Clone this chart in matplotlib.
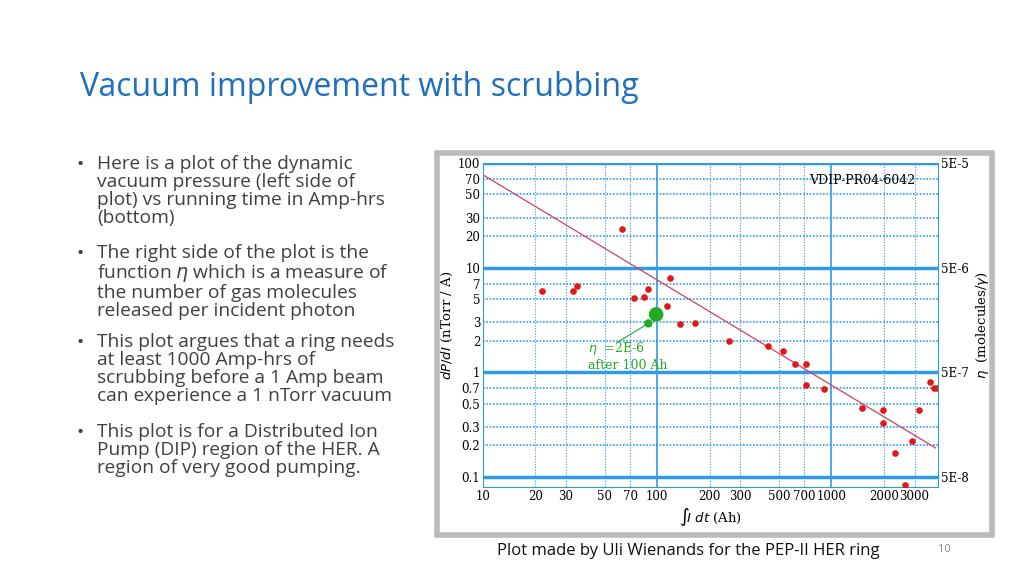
import matplotlib
matplotlib.use("Agg")
import matplotlib.pyplot as plt
from matplotlib.patches import Rectangle
from matplotlib.ticker import FixedLocator, NullLocator

ah = [21.7, 32.7, 34.5, 62.5, 73.8, 84, 88, 118, 114, 135, 165, 258, 431, 529, 614, 711, 713,
      906, 1497, 1990, 1990, 2330, 2640, 2910, 3170, 3670, 3870, 4060]
dpdi = [5.96, 6.0, 6.7, 23.2, 5.1, 5.2, 6.2, 7.9, 4.3, 2.9, 2.97, 2.0, 1.79, 1.6, 1.2, 1.2, 0.75,
        0.69, 0.46, 0.44, 0.33, 0.17, 0.083, 0.22, 0.44, 0.80, 0.71, 0.71]
green_ah = [89, 98.6]
green_dpdi = [2.93, 3.57]
fit_ah = [10, 3960]
fit_dpdi = [77, 0.189]
yticks = [0.1, 0.2, 0.3, 0.5, 0.7, 1, 2, 3, 5, 7, 10, 20, 30, 50, 70, 100]
xticks = [10, 20, 30, 50, 70, 100, 200, 300, 500, 700, 1000, 2000, 3000]
rticks = [0.1, 1, 10, 100]
rlabels = ["5E-8", "5E-7", "5E-6", "5E-5"]

bullets = [
    "Here is a plot of the dynamic\nvacuum pressure (left side of\nplot) vs running time in Amp-hrs\n(bottom)",
    "The right side of the plot is the\nfunction $\\eta$ which is a measure of\nthe number of gas molecules\nreleased per incident photon",
    "This plot argues that a ring needs\nat least 1000 Amp-hrs of\nscrubbing before a 1 Amp beam\ncan experience a 1 nTorr vacuum",
    "This plot is for a Distributed Ion\nPump (DIP) region of the HER. A\nregion of very good pumping.",
]
bullet_y = [165, 254, 343, 433]

fig = plt.figure(figsize=(10.24, 5.76), dpi=100)
fig.patch.set_facecolor("white")
fig.text(80/1024, 1-87/576, "Vacuum improvement with scrubbing", fontsize=23, color="#1f6fc0",
         family="Open Sans", va="center", ha="left")
fig.patches.append(Rectangle((437/1024, 1-535/576), 555/1024, 382/576, transform=fig.transFigure,
                             facecolor="white", edgecolor="#bbbbbb", lw=4, zorder=-10))
for b, yy in zip(bullets, bullet_y):
    fig.text(77/1024, 1-(yy-10)/576, "•", fontsize=14, color="#404040", family="Open Sans", va="top")
    fig.text(97/1024, 1-(yy-10)/576, b, fontsize=13.8, color="#404040", family="Open Sans", va="top",
             linespacing=1.0)
fig.text(497/1024, 1-551/576, "Plot made by Uli Wienands for the PEP-II HER ring", fontsize=12,
         color="#111111", family="Open Sans", va="center")
fig.text(938/1024, 1-549/576, "10", fontsize=8, color="#888888", family="Open Sans", va="center")

ax = fig.add_axes([483/1024, 1-487/576, 455/1024, 324/576])
ax.set_xscale("log"); ax.set_yscale("log")
ax.set_xlim(10, 4090); ax.set_ylim(0.08, 100)
serif = "DejaVu Serif"
for t in yticks:
    major = t in rticks
    ax.axhline(t, color="#2f9be8", lw=2.5 if major else 1.2, ls="-" if major else (0, (1, 1)), zorder=1)
for t in xticks:
    major = t in (100, 1000)
    ax.axvline(t, color="#2f9be8", lw=1.2 if major else 0.8, ls="-" if major else (0, (1, 1.5)), zorder=1)
ax.plot(fit_ah, fit_dpdi, color="#d04060", lw=0.9, zorder=2)
ax.scatter(ah, dpdi, s=14, color="#e01818", zorder=3)
ax.scatter(green_ah, green_dpdi, s=[25, 90], color="#22aa22", zorder=3)
ax.annotate("", xy=(89, 2.93), xytext=(58, 1.9),
            arrowprops=dict(arrowstyle="-", color="#22aa22", lw=0.8))
ax.text(40, 1.67, "$\\eta$  =2E-6", color="#22aa22", fontsize=9, family=serif, va="center")
ax.text(40, 1.17, "after 100 Ah", color="#22aa22", fontsize=9, family=serif, va="center")
ax.text(0.95, 0.965, "VDIP-PR04-6042", transform=ax.transAxes, ha="right", va="top",
        fontsize=9, family=serif)
ax.xaxis.set_major_locator(FixedLocator(xticks)); ax.xaxis.set_minor_locator(NullLocator())
ax.yaxis.set_major_locator(FixedLocator(yticks)); ax.yaxis.set_minor_locator(NullLocator())
ax.set_xticklabels([str(t) for t in xticks], fontsize=8.5, family=serif)
ax.set_yticklabels([("%g" % t) for t in yticks], fontsize=8.5, family=serif)
ax.tick_params(length=0, pad=2)
ax.set_xlabel("$\\int\\!I\\ dt$ (Ah)", fontsize=9.5, family=serif, labelpad=2)
ax.set_ylabel("$dP/dI$ (nTorr / A)", fontsize=9.5, family=serif, labelpad=2)
for s in ax.spines.values():
    s.set_visible(False)
ax.spines["left"].set_visible(True); ax.spines["bottom"].set_visible(True)
ax.spines["left"].set_color("#2f9be8"); ax.spines["bottom"].set_color("#2f9be8")
ax2 = ax.twinx()
ax2.set_yscale("log"); ax2.set_ylim(ax.get_ylim())
ax2.yaxis.set_major_locator(FixedLocator(rticks)); ax2.yaxis.set_minor_locator(NullLocator())
ax2.set_yticklabels(rlabels, fontsize=8.5, family=serif)
ax2.tick_params(length=0, pad=2)
ax2.set_ylabel("$\\eta$  (molecules/$\\gamma$)", fontsize=9.5, family=serif, labelpad=4)
for s in ax2.spines.values():
    s.set_visible(False)
ax2.spines["right"].set_visible(True); ax2.spines["right"].set_color("#2f9be8")
fig.savefig("out.png", dpi=100)
